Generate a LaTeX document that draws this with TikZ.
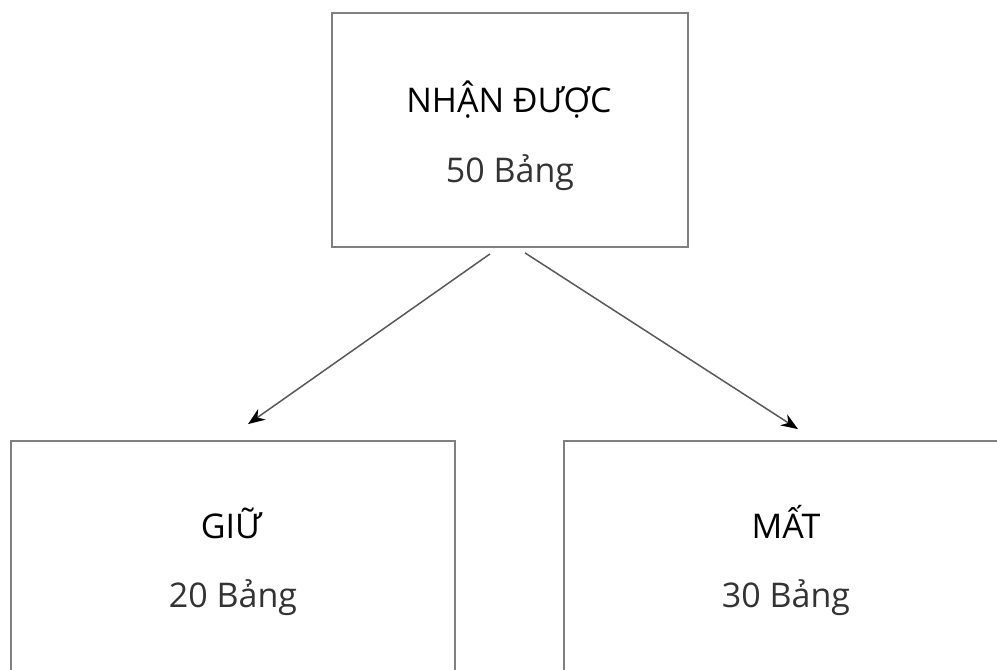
\documentclass[tikz,border=0pt]{standalone}
\usepackage{fontspec}
\setmainfont{Open Sans}
\usetikzlibrary{arrows.meta}
\begin{document}
\begin{tikzpicture}[x=1pt,y=-1pt,
  box/.style={draw=black!50, line width=1.8pt, rectangle, inner sep=0pt},
  lbl/.style={anchor=base, inner sep=0pt, font=\fontsize{34}{40}\selectfont, text=black!80},
  ttl/.style={lbl, text=black},
  conn/.style={draw=black!65, line width=1.5pt, -{Stealth[length=17pt,width=13pt,color=black,fill=black]}}]
\useasboundingbox[fill=white] (0,0) rectangle (997,670);
\clip (0,0) rectangle (997,670);
% boxes
\node[box, minimum width=356pt, minimum height=234pt] (top) at (510,130) {};
\node[box, minimum width=444pt, minimum height=262pt] (gl) at (233,572) {};
\node[box, minimum width=444pt, minimum height=262pt] (gr) at (786,572) {};
% texts
\node[ttl] (t1) at (509,112) {NHẬN ĐƯỢC};
\node[lbl] (t2) at (510,182) {50 Bảng};
\node[ttl] (l1) at (231,538) {GIỮ};
\node[lbl] (l2) at (233,607) {20 Bảng};
\node[ttl] (r1) at (786,538) {MẤT};
\node[lbl] (r2) at (786,607) {30 Bảng};
% connectors
\draw[conn] ([xshift=-20pt,yshift=-6pt]top.south) -- ([xshift=15pt,yshift=16pt]gl.north);
\draw[conn] ([xshift=15pt,yshift=-5pt]top.south) -- ([xshift=12pt,yshift=11pt]gr.north);
\end{tikzpicture}
\end{document}
